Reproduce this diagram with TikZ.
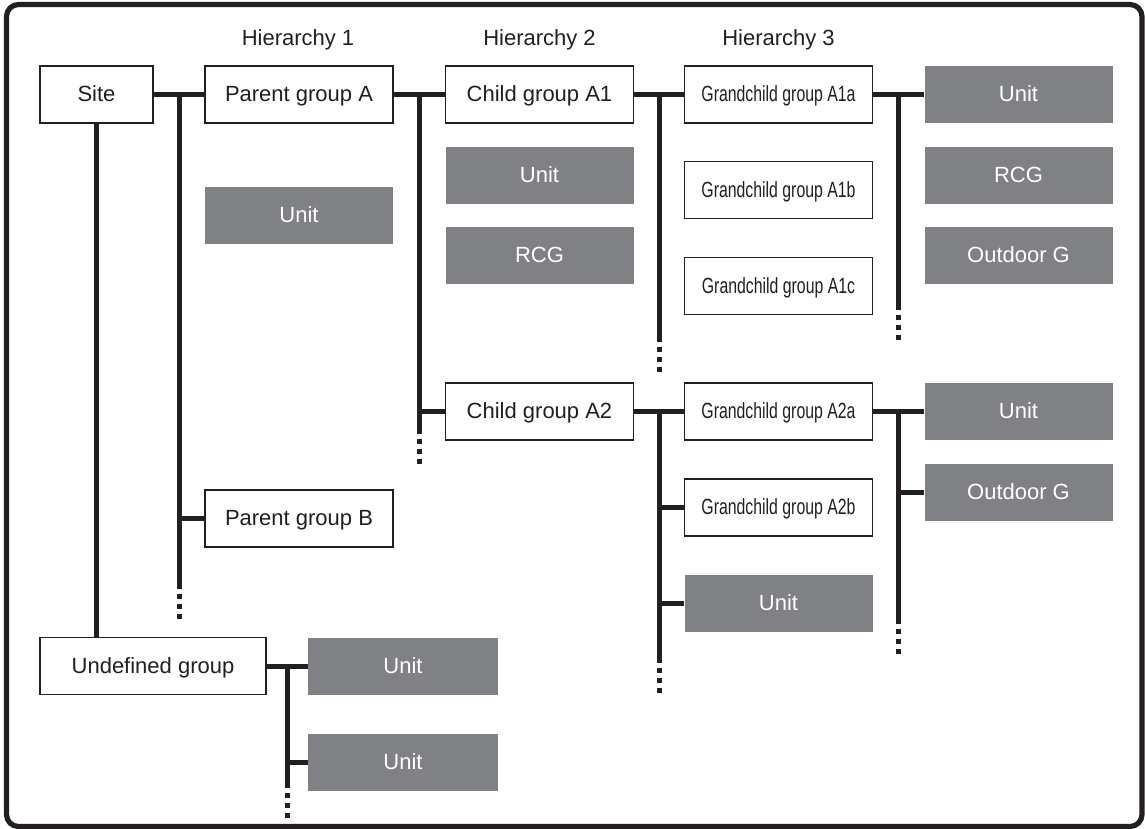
\documentclass[tikz,border=0pt]{standalone}
\usepackage{fontspec}
\setmainfont{Liberation Sans}
\newfontfamily\condfont[FakeStretch=0.72]{Liberation Sans}
\usetikzlibrary{calc}
\definecolor{ink}{RGB}{35,31,32}
\definecolor{unitgray}{RGB}{128,129,132}
\begin{document}
\begin{tikzpicture}[x=0.75pt,y=-0.75pt,
  txt/.style={font=\fontsize{16.5}{19}\selectfont, text=ink},
  fixed/.style={text height=11.2pt, text depth=0pt},
  grp/.style={txt, fixed, draw=ink, line width=1.1pt, fill=white, minimum width=141pt, minimum height=42.75pt, inner sep=0pt},
  gc/.style={grp, font=\fontsize{16.5}{19}\condfont},
  unitbox/.style={fixed, font=\fontsize{16.5}{19}\selectfont, fill=unitgray, text=white, minimum width=141pt, minimum height=42.75pt, inner sep=0pt},
  conn/.style={draw=ink, line width=3.75pt},
  more/.style={draw=ink, line width=3.75pt, dash pattern=on 3.75pt off 3.75pt},
  frame/.style={draw=ink, line width=3.9pt, rounded corners=9pt}]
\useasboundingbox (0,0) rectangle (1145,828);
\draw[frame] (6.5,4.5) rectangle (1142,826.5);

% headers
\node[txt] (h1) at (298,40) {Hierarchy 1};
\node[txt] (h2) at (539.5,40) {Hierarchy 2};
\node[txt] (h3) at (778.5,40) {Hierarchy 3};

% nodes
\node[grp, minimum width=84.75pt] (site) at (96.5,94.5) {Site};
\node[grp] (pga) at (299,94.5) {Parent group A};
\node[unitbox] (pgaunit) at (299,215.5) {Unit};
\node[grp] (pgb) at (299,518.5) {Parent group B};
\node[grp] (ca1) at (539.5,94.5) {Child group A1};
\node[unitbox] (ca1unit) at (539.5,175.5) {Unit};
\node[unitbox] (ca1rcg) at (539.5,255.5) {RCG};
\node[grp] (ca2) at (539.5,411.5) {Child group A2};
\node[gc] (g1a) at (778.5,94.5) {Grandchild group A1a};
\node[gc] (g1b) at (778.5,190) {Grandchild group A1b};
\node[gc] (g1c) at (778.5,286) {Grandchild group A1c};
\node[gc] (g2a) at (778.5,411.5) {Grandchild group A2a};
\node[gc] (g2b) at (778.5,507.5) {Grandchild group A2b};
\node[unitbox] (g2unit) at (778.5,603.5) {Unit};
\node[unitbox] (r1unit) at (1018.5,94.5) {Unit};
\node[unitbox] (r1rcg) at (1018.5,175.5) {RCG};
\node[unitbox] (r1out) at (1018.5,255.5) {Outdoor G};
\node[unitbox] (r2unit) at (1018.5,411.5) {Unit};
\node[unitbox] (r2out) at (1018.5,492) {Outdoor G};
\node[grp, minimum width=169.5pt] (und) at (153,666) {Undefined group};
\node[unitbox, minimum width=142.5pt] (uu1) at (403,666) {Unit};
\node[unitbox, minimum width=142.5pt] (uu2) at (403,762) {Unit};

% trunk coordinates
\coordinate (t1) at ($(site.east)!0.5!(pga.west)$);
\coordinate (t2) at ($(pga.east)!0.5!(ca1.west)$);
\coordinate (t3) at ($(ca1.east)!0.5!(g1a.west)$);
\coordinate (t4) at ($(g1a.east)!0.5!(r1unit.west)$);
\coordinate (t5) at ($(ca2.east)!0.5!(g2a.west)$);
\coordinate (t6) at ($(g2a.east)!0.5!(r2unit.west)$);
\coordinate (t7) at ($(und.east)!0.5!(uu1.west)$);

% horizontal links
\draw[conn] (site.east) -- (pga.west);
\draw[conn] (pga.east) -- (ca1.west);
\draw[conn] (ca1.east) -- (g1a.west);
\draw[conn] (g1a.east) -- (r1unit.west);
\draw[conn] (ca2.east) -- (g2a.west);
\draw[conn] (g2a.east) -- (r2unit.west);
\draw[conn] (und.east) -- (uu1.west);
\draw[conn] (t1 |- pgb.west) -- (pgb.west);
\draw[conn] (t2 |- ca2.west) -- (ca2.west);
\draw[conn] (t5 |- g2b.west) -- (g2b.west);
\draw[conn] (t5 |- g2unit.west) -- (g2unit.west);
\draw[conn] (t6 |- r2out.west) -- (r2out.west);
\draw[conn] (t7 |- uu2.west) -- (uu2.west);

% site down to undefined group
\draw[conn] (site.south) -- (site.south |- und.north);

% vertical trunks with dotted continuation
\coordinate (e1) at ($(t1)+(0,494)$);
\coordinate (e2) at ($(t2)+(0,339)$);
\coordinate (e3) at ($(t3)+(0,247)$);
\coordinate (e4) at ($(t4)+(0,215)$);
\coordinate (e5) at ($(t5)+(0,251)$);
\coordinate (e6) at ($(t6)+(0,212)$);
\coordinate (e7) at ($(t7)+(0,122)$);
\foreach \t/\e in {t1/e1,t2/e2,t3/e3,t4/e4,t5/e5,t6/e6,t7/e7}{
  \draw[conn] (\t) -- (\e);
  \draw[more] ($(\e)+(0,5)$) -- ($(\e)+(0,35)$);
}
\end{tikzpicture}
\end{document}
